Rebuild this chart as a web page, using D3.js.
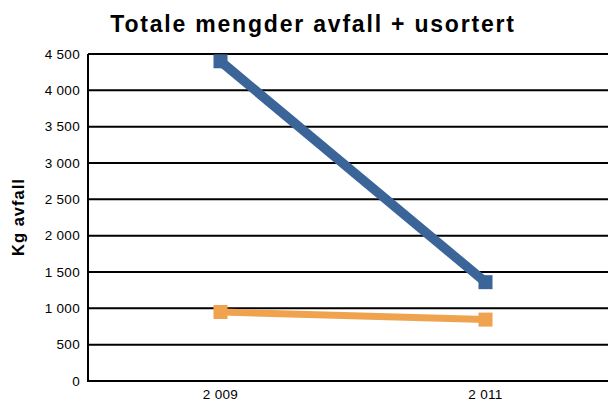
<!DOCTYPE html>
<html><head><meta charset="utf-8">
<script src="https://cdn.jsdelivr.net/npm/d3@7"></script>
<style>body{margin:0;background:#fff}svg{display:block}</style>
</head><body><svg id="c" width="608" height="401"></svg>
<script>
const categories = ["2 009", "2 011"];
const seriesBlue = [4400, 1360];
const seriesOrange = [950, 845];
const yTicks = [0, 500, 1000, 1500, 2000, 2500, 3000, 3500, 4000, 4500];
const yTickLabels = ["0", "500", "1 000", "1 500", "2 000", "2 500", "3 000", "3 500", "4 000", "4 500"];
const title = "Totale mengder avfall + usortert";
const yTitle = "Kg avfall";

const svg = d3.select("#c");
const mLeft = 88, mRight = 618, mTop = 54, mBottom = 381;
const x = d3.scaleBand().domain(categories).range([mLeft, mRight]);
const y = d3.scaleLinear().domain([0, 4500]).range([mBottom, mTop]);
const font = "Liberation Sans, Arial, sans-serif";

svg.append("text").attr("x", 313).attr("y", 32).attr("text-anchor", "middle")
  .attr("font-family", font).attr("font-weight", "bold").attr("font-size", 23)
  .attr("letter-spacing", 1.8).text(title);

// gridlines
svg.append("g").selectAll("line").data(yTicks.filter(d => d > 0)).join("line")
  .attr("x1", mLeft).attr("x2", 608).attr("y1", d => y(d)).attr("y2", d => y(d))
  .attr("stroke", "#000").attr("stroke-width", 2);

// y axis
const yAxis = d3.axisLeft(y).tickValues(yTicks).tickFormat((d, i) => yTickLabels[i]).tickSize(0).tickPadding(8);
const gy = svg.append("g").attr("transform", `translate(${mLeft},0)`).call(yAxis);
gy.select(".domain").remove();
gy.selectAll("text").attr("font-family", font).attr("font-size", 13.5).attr("letter-spacing", 0.3).attr("fill", "#000");
svg.append("line").attr("x1", mLeft).attr("x2", mLeft).attr("y1", mTop).attr("y2", mBottom + 1)
  .attr("stroke", "#000").attr("stroke-width", 2);

// x axis
const xAxis = d3.axisBottom(x).tickSize(0).tickPadding(0);
const gx = svg.append("g").attr("transform", `translate(0,${mBottom})`).call(xAxis);
gx.select(".domain").remove();
gx.selectAll("text").attr("dy", null).attr("y", 18).attr("font-family", font).attr("font-size", 13.5)
  .attr("letter-spacing", 0.3).attr("fill", "#000");
svg.append("line").attr("x1", mLeft - 1).attr("x2", 608).attr("y1", mBottom).attr("y2", mBottom)
  .attr("stroke", "#000").attr("stroke-width", 2);

svg.append("text").attr("transform", `translate(24,217) rotate(-90)`)
  .attr("text-anchor", "middle").attr("font-family", font).attr("font-weight", "bold")
  .attr("font-size", 16.5).attr("letter-spacing", 1).text(yTitle);

const cx = d => x(d) + x.bandwidth() / 2;
function drawSeries(vals, color, w) {
  const line = d3.line().x((d, i) => cx(categories[i])).y(d => y(d));
  svg.append("path").datum(vals).attr("d", line).attr("fill", "none")
    .attr("stroke", color).attr("stroke-width", w);
  svg.append("g").selectAll("rect").data(vals).join("rect")
    .attr("x", (d, i) => cx(categories[i]) - 7).attr("y", d => y(d) - 7)
    .attr("width", 14).attr("height", 14).attr("fill", color);
}
drawSeries(seriesOrange, "#F0A34E", 7);
drawSeries(seriesBlue, "#3B6499", 9.5);
</script></body></html>
